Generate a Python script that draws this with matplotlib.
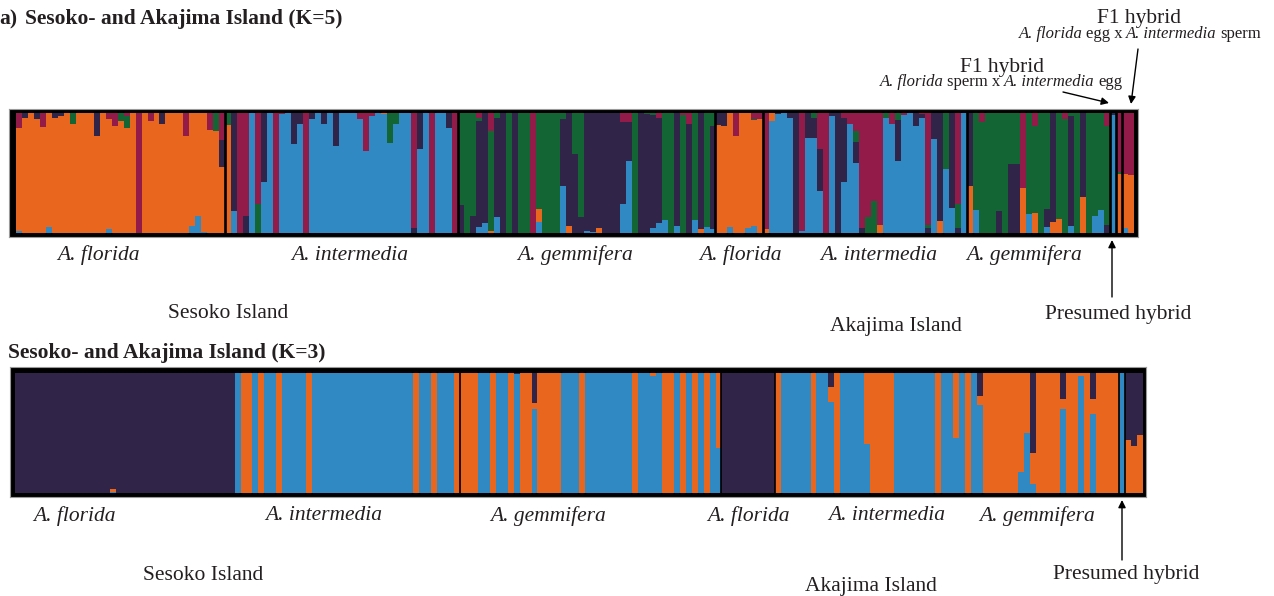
import matplotlib
matplotlib.use("Agg")
import matplotlib.pyplot as plt

W, H = 1274, 596
plt.rcParams['font.family'] = ['Liberation Serif', 'DejaVu Serif']

COLORS = {'O': '#E9661F', 'B': '#3189C3', 'M': '#921B4A', 'D': '#302548', 'G': '#136633'}
TXT = '#231F20'

# ---------------- K=5 membership (segments bottom -> top, percent) ----------------
k5_sesoko_florida = ["B2 O85 M13", "O96 D4", "O", "O95 D5", "O88 M12", "B5 O95", "O96 D4", "O97 D3",
                     "O", "O91 G9", "O", "O", "O", "O81 D19", "O", "B3 O92 M5", "O89 M11", "O93 G7",
                     "O87 G10 M3", "O", "M", "O", "O93 M7", "O", "O91 D9", "O", "O", "O", "O81 M19",
                     "B6 O94", "B14 O86", "B1 O99", "O86 M14", "O85 G15", "O55 D22 M23"]
k5_sesoko_intermedia = ["O90 G10", "B18 D82", "M", "D14 M86", "B", "G24 M76", "B42 D58", "B", "M",
                        "B99 M1", "B", "B74 D26", "B91 D9", "M", "B95 D5", "B", "B91 D9", "B", "B72 D28",
                        "B", "B", "B", "B95 M5", "B68 M32", "B97 M3", "B", "B99 O1", "B75 G25", "B91 G9",
                        "B", "B", "D4 M96", "B70 D30", "B", "M", "B", "B", "B87 D13", "M"]
k5_sesoko_gemmifera = ["D23 G77", "G", "D14 G86", "B5 D88 G3 M4", "B8 D92", "O2 G83 M15", "B13 D83 G4",
                       "D", "G", "D", "G", "G", "M", "B9 O11 G80", "G", "G", "G", "B39 D56 G5", "O6 D94",
                       "D66 G34", "D13 G87", "B2 D98", "B1 D99", "O4 D96", "D", "D", "D", "B24 D68 M8",
                       "B60 D32 M8", "G", "D", "D99 G1", "B4 D94 G2", "B8 D88 M4", "B11 G89", "G",
                       "B6 D94", "G98 M2", "D91 M9", "B11 G89", "O3 D97", "B5 G95", "B3 D86 G11"]
k5_akajima_florida = ["O90 D10", "O89 D11", "B5 O95", "O81 M19", "O", "B4 O96", "B6 O88 G1 M5", "O95 M5"]
k5_akajima_intermedia = ["O3 M97", "B93 O7", "B99 D1", "B", "B96 D4", "D", "B2 M98", "B79 D21",
                         "B79 D17 G4", "B35 D35 M30", "M", "B97 D3", "D", "B42 D54 M4", "B91 M9",
                         "B58 D18 G9 M15", "D4 M96", "G13 M87", "G27 M73", "O7 M93", "B96 G4", "B91 M9",
                         "B60 D34 G6", "B98 M2", "B", "B89 D11", "B96 D3 M1", "D4 G3 M93", "B78 D22",
                         "O10 D90", "B53 G47", "B21 D79", "D4 G20 M76", "B"]
k5_akajima_gemmifera = ["O39 D61", "B19 G81", "G92 M8", "G", "G", "D18 G82", "G", "D57 G43", "D57 G43",
                        "O37 M63", "B16 G84", "O17 G72 M11", "G", "B5 D15 G80", "O9 D91", "O12 G88",
                        "G95 M5", "B6 D91 G3", "G", "O30 D70", "G", "B14 G86", "B19 G81", "D7 G82 M11"]
k5_hybrids = ["B98 D2", "O49 G2 M49", "B4 O45 M51", "O48 M52"]

# ---------------- K=3 membership ----------------
k3_sesoko_florida = ["D", "D", "D", "D", "D", "D", "D", "D", "D", "D", "D", "D", "D", "D", "D", "D",
                     "B1 O2 D97", "D", "D", "D", "D", "D", "D", "D", "D", "D", "D", "D", "D", "D", "D",
                     "D", "D", "D", "D", "D", "D"]
k3_sesoko_intermedia = ["B", "O", "O", "B", "O", "B", "B", "O", "B", "B", "B", "B", "O",
                        "B", "B", "B", "B", "B", "B", "B", "B", "B", "B", "B", "B", "B", "B", "B", "B", "B",
                        "O", "B", "B", "O", "B", "B", "B", "O"]
k3_sesoko_gemmifera = ["O", "O", "O", "B", "B", "O", "B", "B", "O", "B99 D1", "O", "O", "B70 O5 D25",
                       "O", "O", "O", "O", "B", "B", "B", "O", "B", "B", "B", "B", "B", "B", "B", "B", "O",
                       "B", "B", "B97 O3", "B", "O", "O", "B", "O", "B", "O", "B", "O", "B", "B37 O63"]
k3_akajima_florida = ["D", "D", "D", "D", "D", "D", "D", "D", "D"]
k3_akajima_intermedia = ["O", "B", "B", "B", "B", "B", "O", "B", "B", "B76 O12 D12", "O", "B", "B", "B", "B",
                         "B41 O59", "O", "O", "O", "O", "B", "B", "B", "B", "B", "B", "B", "O", "B", "B",
                         "B46 O54", "B"]
k3_akajima_gemmifera = ["O", "B", "B73 O8 D19", "O", "O", "O", "O", "O", "O", "B17 O83", "B50 O50",
                        "B7 O26 D67", "O", "O", "O", "O", "B70 O8 D22", "O", "O", "B97 O3", "O",
                        "B66 O12 D22", "O", "O", "O", "O"]
k3_hybrids = ["B", "O44 D56", "O39 D61", "O48 D52"]

species = ["A. florida", "A. intermedia", "A. gemmifera", "A. florida", "A. intermedia", "A. gemmifera"]


def parse(s):
    segs = []
    for tok in s.split():
        c = tok[0]
        v = float(tok[1:]) if len(tok) > 1 else 100.0
        segs.append((c, v))
    tot = sum(v for _, v in segs)
    return [(c, v / tot) for c, v in segs]


def px(x, y):
    return x / W, 1 - y / H


def draw_panel(groups, box, inner, seps, sep_lw):
    bars = [b for g in groups for b in g]
    n = len(bars)
    ax0, ay0, ax1, ay1 = box
    xi0, yi0, xi1, yi1 = inner
    ax = fig.add_axes([ax0 / W, 1 - ay1 / H, (ax1 - ax0) / W, (ay1 - ay0) / H])
    ax.set_facecolor('black')
    sc = n / (xi1 - xi0)
    ax.set_xlim(-(xi0 - ax0) * sc, n + (ax1 - xi1) * sc)
    sy = 1 / (yi1 - yi0)
    ax.set_ylim(-(ay1 - yi1) * sy, 1 + (yi0 - ay0) * sy)
    for i, s in enumerate(bars):
        bottom = 0.0
        for c, v in parse(s):
            ax.bar(i, v, bottom=bottom, width=1.0, align='edge', color=COLORS[c],
                   linewidth=0, antialiased=False)
            bottom += v
    for sx in seps:
        ax.axvline(sx, color='black', lw=sep_lw)
    ax.set_xticks([])
    ax.set_yticks([])
    for sp in ax.spines.values():
        sp.set_color('#9a9a9a')
        sp.set_linewidth(0.8)
    return ax


fig = plt.figure(figsize=(W / 100, H / 100), dpi=100)
fig.patch.set_facecolor('white')

g5 = [k5_sesoko_florida, k5_sesoko_intermedia, k5_sesoko_gemmifera, k5_akajima_florida,
      k5_akajima_intermedia, k5_akajima_gemmifera, k5_hybrids]
g3 = [k3_sesoko_florida, k3_sesoko_intermedia, k3_sesoko_gemmifera, k3_akajima_florida,
      k3_akajima_intermedia, k3_akajima_gemmifera, k3_hybrids]


def boundaries(groups):
    out, c = [], 0
    for g in groups[:-1]:
        c += len(g)
        out.append(c)
    return out


b5 = boundaries(g5)
seps5 = b5 + [b5[-1] + 1, b5[-1] + 2]
draw_panel(g5, (9, 109, 1138, 237), (16, 112.7, 1134, 233), seps5, 1.9)

b3 = boundaries(g3)
seps3 = [b3[1], b3[2], b3[3], b3[5], b3[5] + 1]
draw_panel(g3, (10, 367, 1146, 497), (15, 372.7, 1143, 492.7), seps3, 1.2)

FS = 15.5


def t(x, y, s, **kw):
    kw.setdefault('fontsize', FS)
    kw.setdefault('color', TXT)
    kw.setdefault('ha', 'center')
    kw.setdefault('va', 'center')
    fig.text(*px(x, y), s, **kw)


# titles
t(-1, 19, "a)", ha='left', fontweight='bold')
t(25, 19, "Sesoko- and Akajima Island (K=5)", ha='left', fontweight='bold')
t(8, 353, "Sesoko- and Akajima Island (K=3)", ha='left', fontweight='bold')

# species labels
for xc, s in zip([98, 350, 575, 740, 879, 1024], species):
    t(xc, 255, s, style='italic')
for xc, s in zip([74, 324, 548, 748, 887, 1037], species):
    t(xc, 516, s, style='italic')

# island labels
t(228, 314, "Sesoko Island")
t(896, 326, "Akajima Island")
t(203, 575, "Sesoko Island")
t(871, 586, "Akajima Island")
t(1118, 314, "Presumed hybrid")
t(1126, 575, "Presumed hybrid")

# F1 hybrid labels
t(1139, 23, "F1 hybrid", va='baseline')
t(1002, 72, "F1 hybrid", va='baseline')


def mixed(xc, ybase, pieces, fs):
    r = fig.canvas.get_renderer()
    objs = []
    for s, st in pieces:
        objs.append(fig.text(0, 1 - ybase / H, s, style=st, fontsize=fs, color=TXT,
                             ha='left', va='baseline'))
    widths = [o.get_window_extent(r).width for o in objs]
    a1 = fig.text(0, 0, "n n", fontsize=fs)
    a2 = fig.text(0, 0, "nn", fontsize=fs)
    space = 0.85 * (a1.get_window_extent(r).width - a2.get_window_extent(r).width)
    a1.remove()
    a2.remove()
    total = sum(widths) + space * (len(pieces) - 1)
    x = xc - total / 2
    for o, w in zip(objs, widths):
        o.set_x(x / W)
        x += w + space


mixed(1140, 37.5, [("A. florida", 'italic'), ("egg x", 'normal'),
                   ("A. intermedia", 'italic'), ("sperm", 'normal')], 12)
mixed(1001, 86.5, [("A. florida", 'italic'), ("sperm x", 'normal'),
                   ("A. intermedia", 'italic'), ("egg", 'normal')], 12)

arrow = dict(arrowstyle='-|>', color='black', lw=1.0, mutation_scale=11, shrinkA=0, shrinkB=0)


def arr(x1, y1, x2, y2):
    fig.add_artist(plt.Annotation('', xy=(x2, H - y2), xytext=(x1, H - y1),
                                  xycoords='figure pixels', textcoords='figure pixels',
                                  arrowprops=arrow))


arr(1112, 297, 1112, 240)
arr(1122, 560, 1122, 500)
arr(1138, 49, 1131, 104)
arr(1063, 92, 1109, 103)

fig.savefig("out.png", dpi=100, facecolor='white')
